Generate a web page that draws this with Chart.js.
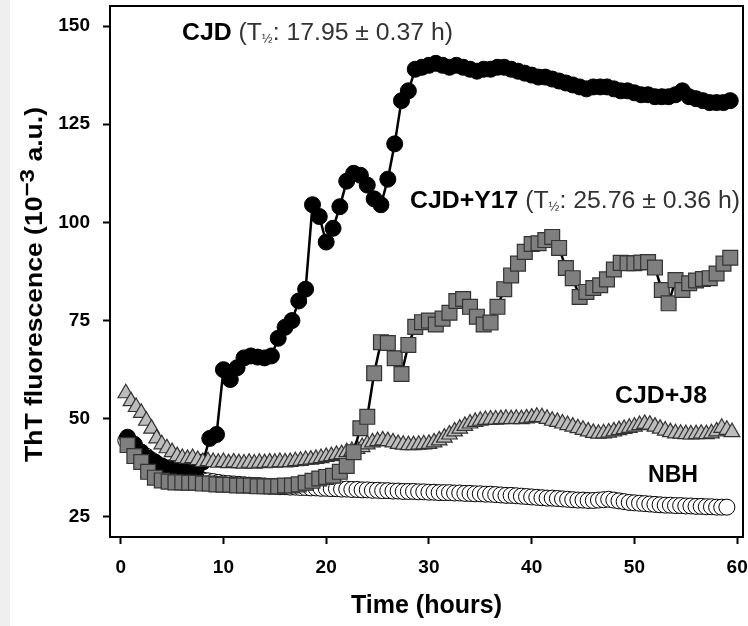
<!DOCTYPE html>
<html>
<head>
<meta charset="utf-8">
<script src="https://cdn.jsdelivr.net/npm/chart.js@4.4.1/dist/chart.umd.min.js"></script>
<style>
  html, body { margin: 0; background: #fff; overflow: hidden; }
  #wrap { width: 748px; height: 626px; }
  canvas { display: block; }
</style>
</head>
<body>
<div id="wrap"><canvas id="thtChart" width="748" height="626"></canvas></div>
<script>
// sampling interval (hours): CJD and CJD+Y17 every 40 min, CJD+J8 and NBH every 30 min
const stepCJD = 2 / 3;
const stepJ8 = 0.5;

// ThT fluorescence (10^-3 a.u.)
const cjd = [
  45.3, 43.5, 41.5, 40, 39, 38, 37.5, 37, 36.5, 36.5,
  37, 39, 45, 46, 62.5, 60, 63, 65.5, 66, 65.7,
  65.5, 66, 70.5, 73.3, 75, 80, 83, 104.5, 101.5, 95,
  98.5, 104, 110.5, 112.5, 112, 109.5, 106, 104.5, 111, 120,
  131, 133.5, 139, 139.5, 140, 140.5, 140, 139.5, 140, 139.5,
  139, 138.5, 139, 139, 139.5, 139.5, 139, 138.5, 138, 137.5,
  137, 137, 136.5, 136, 135.5, 135, 134.5, 134, 134.5, 134.5,
  134.5, 134, 133.5, 133.5, 133, 132.5, 132.5, 132, 132, 132,
  132.5, 133.5, 132, 131.5, 131, 130.5, 130.5, 130.5, 131,
];
const cjdY17 = [
  43.3, 40.5, 39, 36.5, 35, 34.3, 34, 33.8, 33.8, 33.7,
  33.7, 33.5, 33.5, 33.3, 33.2, 33.2, 33, 33, 33, 32.8,
  32.8, 32.8, 32.8, 33, 33, 33.3, 33.7, 34.2, 34.8, 35.2,
  35.5, 36.5, 38, 41.5, 47.6, 50.5, 61.6, 69.5, 69.3, 65.4,
  61.4, 68.8, 73.4, 74.6, 75, 74, 75.5, 77, 80, 80.5,
  78.5, 76, 74, 74.5, 78.5, 83, 86.5, 89.5, 92.5, 94.5,
  94.7, 95.5, 96.3, 93.5, 88.4, 85.8, 81, 82.3, 83.3, 84,
  85.5, 88, 89.7, 89.6, 89.6, 89.8, 89.9, 88.5, 82.8, 79.4,
  85.3, 82.8, 84.5, 85.2, 85.6, 85.8, 87, 89.5, 91,
];
const cjdJ8 = [
  56.5, 54.5, 53, 51.5, 49.5, 47.5, 45, 43.5, 42.5, 41.5,
  40.5, 40, 39.8, 40, 39.5, 39, 39.2, 39, 38.8, 39,
  38.7, 38.9, 38.7, 38.6, 38.8, 38.6, 38.8, 38.7, 38.9, 38.8,
  39, 38.9, 39, 39.2, 39.3, 39.5, 39.6, 39.8, 40, 40.3,
  40.5, 40.8, 41, 41.5, 41.8, 42.3, 42.8, 43.5, 44, 44.3,
  44.5, 44.3, 44, 43.6, 43.4, 43.3, 43.3, 43.4, 43.5, 43.6,
  44, 44.5, 45.2, 46, 46.8, 47.5, 48.2, 48.8, 49.2, 49.5,
  49.7, 49.8, 49.8, 49.9, 50, 49.9, 50, 49.9, 50.1, 50.3,
  50.5, 50.4, 50, 49.5, 49.2, 48.8, 48.4, 48, 47.6, 47.2,
  46.8, 46.4, 46.2, 46.3, 46.5, 46.8, 47.1, 47.4, 47.7, 48,
  48.4, 48.7, 48.5, 48, 47.5, 47, 46.6, 46.3, 46.2, 46.1,
  46, 46.1, 46.2, 46.1, 46.3, 46.8, 47.7, 47.2, 46.6,
];
const nbh = [
  44.5, 43.5, 42.5, 41.5, 40.5, 39.5, 38.6, 37.8, 37.2, 36.6,
  36.1, 35.7, 35.3, 35, 34.7, 34.4, 34.2, 34, 33.8, 33.6,
  33.5, 33.4, 33.3, 33.2, 33.1, 33, 33, 32.9, 32.8, 32.8,
  32.7, 32.7, 32.6, 32.6, 32.5, 32.5, 32.4, 32.4, 32.3, 32.3,
  32.2, 32.2, 32.1, 32.1, 32, 32, 31.9, 31.9, 31.8, 31.8,
  31.7, 31.7, 31.6, 31.6, 31.5, 31.5, 31.5, 31.4, 31.4, 31.3,
  31.3, 31.2, 31.2, 31.2, 31.1, 31.1, 31, 31, 30.9, 30.9,
  30.8, 30.8, 30.7, 30.6, 30.5, 30.5, 30.4, 30.3, 30.2, 30.1,
  30, 29.9, 29.8, 29.8, 29.7, 29.6, 29.5, 29.4, 29.3, 29.3,
  29.2, 29.2, 29.3, 29.4, 29.5, 29.3, 29.1, 28.9, 28.7, 28.6,
  28.5, 28.4, 28.3, 28.2, 28.1, 28, 28, 27.9, 27.9, 27.8,
  27.8, 27.7, 27.7, 27.6, 27.6, 27.5, 27.5, 27.5,
];

const xTicks = [0, 10, 20, 30, 40, 50, 60];
const yTicks = [25, 50, 75, 100, 125, 150];

const FONT = 'Arial, "Liberation Sans", sans-serif';
const bold = (size) => `bold ${size}px ${FONT}`;
const normal = (size) => `${size}px ${FONT}`;

// text next to the curves, [parts, x, baseline, width]
const labels = [
  [[{ text: 'CJD', font: bold(23), color: '#000' },
    { text: ' (T', font: normal(23), color: '#333' },
    { text: '½', font: normal(12), color: '#333', dy: 3 },
    { text: ': 17.95 ± 0.37 h)', font: normal(23), color: '#333' }], 182, 40, 271],
  [[{ text: 'CJD+Y17', font: bold(23), color: '#000' },
    { text: ' (T', font: normal(23), color: '#333' },
    { text: '½', font: normal(12), color: '#333', dy: 3 },
    { text: ': 25.76 ± 0.36 h)', font: normal(23), color: '#333' }], 410, 208, 330],
  [[{ text: 'CJD+J8', font: bold(23), color: '#000' }], 615, 403, 92],
  [[{ text: 'NBH', font: bold(23), color: '#000' }], 648, 482, 50],
];

const yTitle = [
  { text: 'ThT fluorescence (10', font: bold(23), color: '#000' },
  { text: '−3', font: bold(21), color: '#000', dy: -8 },
  { text: ' a.u.)', font: bold(23), color: '#000' },
];

const toPoints = (values, step) => values.map((v, i) => ({ x: +((i + 1) * step).toFixed(2), y: v }));

const drawRich = (ctx, parts, x, y, width) => {
  let total = 0;
  parts.forEach((p) => {
    ctx.font = p.font;
    total += ctx.measureText(p.text).width;
  });
  const k = width ? width / total : 1;
  ctx.save();
  ctx.translate(x, y);
  ctx.scale(k, 1);
  ctx.textAlign = 'left';
  ctx.textBaseline = 'alphabetic';
  let cx = 0;
  parts.forEach((p) => {
    ctx.font = p.font;
    ctx.fillStyle = p.color;
    ctx.fillText(p.text, cx, p.dy || 0);
    cx += ctx.measureText(p.text).width;
  });
  ctx.restore();
};

const figurePlugin = {
  id: 'figure',
  beforeDraw(chart) {
    const { ctx } = chart;
    ctx.save();
    ctx.fillStyle = '#fff';
    ctx.fillRect(0, 0, chart.width, chart.height);
    ctx.fillStyle = '#efefef';
    ctx.fillRect(0, 0, 10, chart.height);
    ctx.restore();
  },
  afterDraw(chart) {
    const { ctx, chartArea: a } = chart;
    ctx.save();
    ctx.strokeStyle = '#000';
    ctx.lineWidth = 2;
    ctx.strokeRect(a.left, a.top, a.right - a.left, a.bottom - a.top);
    ctx.restore();

    labels.forEach(([parts, x, y, w]) => drawRich(ctx, parts, x, y, w));

    ctx.save();
    ctx.translate(42, 462);
    ctx.rotate(-Math.PI / 2);
    drawRich(ctx, yTitle, 0, 0, 355);
    ctx.restore();
  },
};

// fixed axis box, no extra room asked for the outer tick labels
const fixAxis = (size) => (scale) => {
  if (scale.isHorizontal()) scale.height = size;
  else scale.width = size;
  scale.paddingTop = 0;
  scale.paddingBottom = 0;
  scale.paddingLeft = 0;
  scale.paddingRight = 0;
};

const tickFont = { family: FONT, size: 19, weight: 'bold' };
const tickGrid = {
  drawOnChartArea: false,
  drawTicks: true,
  tickLength: 7,
  tickWidth: 2,
  color: '#000',
};

const ctx = document.getElementById('thtChart').getContext('2d');
const thtChart = new Chart(ctx, {
  type: 'line',
  data: {
    datasets: [
      {
        label: 'CJD+Y17',
        data: toPoints(cjdY17, stepCJD),
        order: 0,
        borderColor: '#000',
        borderWidth: 2.5,
        pointStyle: 'rect',
        pointRadius: 10.5,
        pointBackgroundColor: '#7f7f7f',
        pointBorderColor: '#333',
        pointBorderWidth: 1.2,
      },
      {
        label: 'CJD+J8',
        data: toPoints(cjdJ8, stepJ8),
        order: 1,
        borderColor: '#000',
        borderWidth: 2,
        pointStyle: 'triangle',
        pointRadius: 9,
        pointBackgroundColor: '#bdbdbd',
        pointBorderColor: '#333',
        pointBorderWidth: 1.2,
      },
      {
        label: 'CJD',
        data: toPoints(cjd, stepCJD),
        order: 2,
        borderColor: '#000',
        borderWidth: 2.5,
        pointStyle: 'circle',
        pointRadius: 8,
        pointBackgroundColor: '#000',
        pointBorderColor: '#000',
        pointBorderWidth: 1,
      },
      {
        label: 'NBH',
        data: toPoints(nbh, stepJ8),
        order: 3,
        borderColor: '#000',
        borderWidth: 1.5,
        pointStyle: 'circle',
        pointRadius: 8,
        pointBackgroundColor: '#fff',
        pointBorderColor: '#000',
        pointBorderWidth: 1,
      },
    ],
  },
  options: {
    responsive: false,
    animation: false,
    layout: { autoPadding: false, padding: { top: 6, right: 5, left: 0, bottom: 0 } },
    plugins: {
      legend: { display: false },
      tooltip: { enabled: false },
    },
    elements: { line: { tension: 0 } },
    scales: {
      x: {
        type: 'linear',
        min: -1.04,
        max: 60.57,
        afterFit: fixAxis(89),
        afterBuildTicks: (scale) => { scale.ticks = xTicks.map((v) => ({ value: v })); },
        grid: tickGrid,
        border: { display: false },
        ticks: { padding: 12, color: '#000', font: tickFont },
        title: {
          display: true,
          text: 'Time (hours)',
          color: '#000',
          font: { family: FONT, size: 25, weight: 'bold' },
          padding: { top: 0, bottom: 5 },
        },
      },
      y: {
        min: 19.9,
        max: 155.1,
        afterFit: fixAxis(110),
        afterBuildTicks: (scale) => { scale.ticks = yTicks.map((v) => ({ value: v })); },
        grid: tickGrid,
        border: { display: false },
        ticks: { padding: 13, color: '#000', font: tickFont },
      },
    },
  },
  plugins: [figurePlugin],
});
</script>
</body>
</html>
